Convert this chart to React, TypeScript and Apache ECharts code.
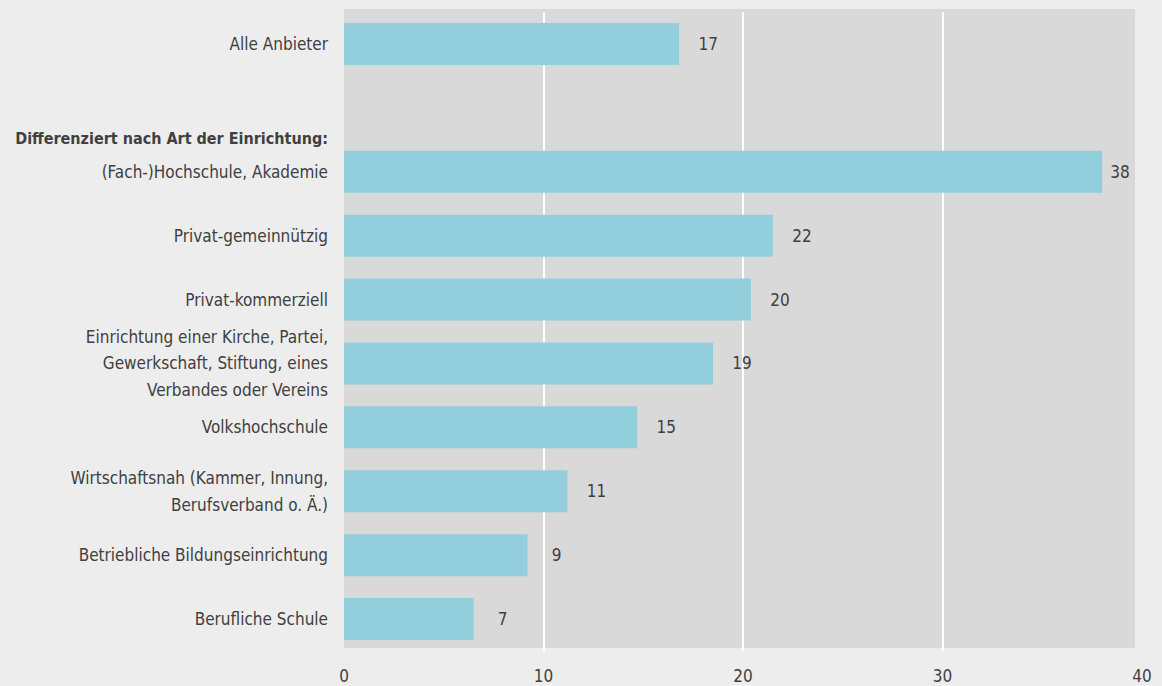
import React, { useEffect, useRef } from "react";
import * as echarts from "echarts";

const categories = [
  "Alle Anbieter",
  "Differenziert nach Art der Einrichtung:",
  "(Fach-)Hochschule, Akademie",
  "Privat-gemeinnützig",
  "Privat-kommerziell",
  "Einrichtung einer Kirche, Partei,\nGewerkschaft, Stiftung, eines\nVerbandes oder Vereins",
  "Volkshochschule",
  "Wirtschaftsnah (Kammer, Innung,\nBerufsverband o. Ä.)",
  "Betriebliche Bildungseinrichtung",
  "Berufliche Schule",
];
const values: (number | string)[] = [16.8, "-", 38.0, 21.5, 20.4, 18.5, 14.7, 11.2, 9.2, 6.5];
const valueLabels = ["17", "", "38", "22", "20", "19", "15", "11", "9", "7"];
const headerIndex = 1;
const xTicks = { min: 0, max: 40, interval: 10 };

const FONT = "'DejaVu Sans Condensed', 'Liberation Sans', sans-serif";
const TEXT = "#404040";
const FS = 17;

export default function App() {
  const ref = useRef<HTMLDivElement>(null);
  useEffect(() => {
    document.body.style.margin = "0";
    document.body.style.background = "#ededed";
    const chart = echarts.init(ref.current!, undefined, { renderer: "svg" });
    chart.setOption({
      animation: false,
      backgroundColor: "#ededed",
      textStyle: { fontFamily: FONT },
      grid: {
        left: 344,
        right: 20,
        top: 12,
        bottom: 35,
        containLabel: false,
        outerBoundsMode: "none",
      },
      graphic: [
        {
          type: "rect",
          z: -10,
          shape: { x: 344, y: 9, width: 791, height: 639 },
          style: { fill: "#d9d9d9" },
          silent: true,
        },
      ],
      xAxis: {
        type: "value",
        min: xTicks.min,
        max: xTicks.max,
        interval: xTicks.interval,
        axisLine: { show: false },
        axisTick: { show: false },
        splitLine: {
          show: true,
          showMinLine: false,
          showMaxLine: false,
          lineStyle: { color: "#ffffff", width: 2 },
        },
        axisLabel: { fontFamily: FONT, fontSize: FS, color: TEXT, margin: 16 },
      },
      yAxis: {
        type: "category",
        inverse: true,
        data: categories,
        axisLine: { show: false },
        axisTick: { show: false },
        splitLine: { show: false },
        axisLabel: {
          fontFamily: FONT,
          fontSize: FS,
          lineHeight: 26.6,
          color: TEXT,
          margin: 16,
          formatter: (v: string, i: number) => (i === headerIndex ? `{h|${v}}` : v),
          rich: {
            h: {
              fontFamily: FONT,
              fontSize: 16,
              fontWeight: "bold",
              color: TEXT,
              lineHeight: 26.6,
              padding: [62, 0, 0, 0],
            },
          },
        },
      },
      series: [
        {
          type: "bar",
          data: values.map((v, i) =>
            i === 2 ? { value: v, label: { distance: 18 } } : v
          ),
          barWidth: 42,
          itemStyle: { color: "#93cedd" },
          label: {
            show: true,
            position: "right",
            distance: 29,
            align: "center",
            fontFamily: FONT,
            fontSize: FS,
            color: TEXT,
            formatter: (p: any) => valueLabels[p.dataIndex],
          },
        },
      ],
    });
    return () => chart.dispose();
  }, []);
  return <div ref={ref} style={{ width: 1162, height: 686 }} />;
}
